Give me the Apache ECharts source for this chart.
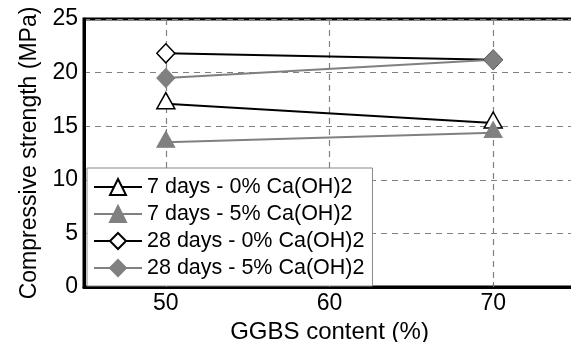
<!DOCTYPE html>
<html>
<head>
<meta charset="utf-8">
<script src="https://cdn.jsdelivr.net/npm/echarts@6/dist/echarts.min.js"></script>
<style>
  html, body { margin: 0; padding: 0; background: #fff; }
  #chart { width: 571px; height: 342px; }
</style>
</head>
<body>
<div id="chart"></div>
<script>
// GGBS replacement levels on the x axis
const ggbs = [50, 70];
// Labelled x positions
const xTicks = [50, 60, 70];

// Compressive strength (MPa) per curing age and Ca(OH)2 dosage
const d7_0 = [17.1, 15.3];
const d7_5 = [13.5, 14.4];
const d28_0 = [21.8, 21.2];
const d28_5 = [19.5, 21.2];

const seriesNames = [
  '7 days - 0% Ca(OH)2',
  '7 days - 5% Ca(OH)2',
  '28 days - 0% Ca(OH)2',
  '28 days - 5% Ca(OH)2'
];

const FONT = '"Liberation Sans", Arial, Helvetica, sans-serif';
const BLACK = '#000000';
const GREY = '#808080';

function pairs(vals) {
  return ggbs.map((x, i) => [x, vals[i]]);
}

function lineSeries(name, vals, color, symbol, size, hollow, offset) {
  return {
    name: name,
    type: 'line',
    data: pairs(vals),
    symbol: symbol,
    symbolSize: size,
    symbolOffset: offset || [0, 0],
    showAllSymbol: true,
    lineStyle: { color: color, width: 2 },
    itemStyle: hollow
      ? { color: '#ffffff', borderColor: color, borderWidth: 1.5 }
      : { color: color, borderColor: color, borderWidth: 1 },
    emphasis: { disabled: true },
    animation: false
  };
}

const chart = echarts.init(document.getElementById('chart'), null, { renderer: 'canvas' });

chart.setOption({
  animation: false,
  textStyle: { fontFamily: FONT },
  grid: {
    left: 84, top: 19, right: -4, bottom: 55,
    outerBoundsMode: 'none',
    containLabel: false,
    show: true,
    borderColor: BLACK,
    borderWidth: 3,
    backgroundColor: 'transparent'
  },
  xAxis: {
    type: 'value',
    min: 45, max: 75, interval: 5,
    name: 'GGBS content (%)',
    nameLocation: 'middle',
    nameGap: 30,
    nameTextStyle: { fontSize: 24, color: BLACK, fontFamily: FONT },
    axisLine: { show: true, onZero: false, lineStyle: { color: BLACK, width: 3 } },
    axisTick: { show: true, inside: true, length: 5, customValues: xTicks, lineStyle: { color: '#777', width: 1 } },
    axisLabel: { fontSize: 23, color: BLACK, fontFamily: FONT, margin: 5, customValues: xTicks },
    splitLine: { show: true, lineStyle: { color: GREY, width: 1.2, type: [6, 5] } }
  },
  yAxis: {
    type: 'value',
    min: 0, max: 25, interval: 5,
    name: 'Compressive strength (MPa)',
    nameLocation: 'middle',
    nameGap: 43,
    nameTextStyle: { fontSize: 23, color: BLACK, fontFamily: FONT },
    axisLine: { show: true, lineStyle: { color: BLACK, width: 3 } },
    axisTick: { show: false },
    axisLabel: { fontSize: 23, color: BLACK, fontFamily: FONT, margin: 6 },
    splitLine: { show: true, lineStyle: { color: GREY, width: 1.2, type: [6, 5] } }
  },
  legend: {
    data: seriesNames,
    orient: 'vertical',
    left: 87, top: 168,
    itemWidth: 48, itemHeight: 20, itemGap: 5,
    padding: [8, 8, 7, 6],
    backgroundColor: '#ffffff',
    borderColor: '#888888',
    borderWidth: 1,
    borderRadius: 0,
    textStyle: { fontSize: 21.5, color: BLACK, fontFamily: FONT },
    selectedMode: false
  },
  series: [
    lineSeries(seriesNames[0], d7_0, BLACK, 'triangle', [18, 16], true, [0, -3]),
    lineSeries(seriesNames[1], d7_5, GREY, 'triangle', [18, 16], false, [0, -3]),
    lineSeries(seriesNames[2], d28_0, BLACK, 'diamond', [18, 19], true),
    lineSeries(seriesNames[3], d28_5, GREY, 'diamond', [18, 19], false)
  ]
});
</script>
</body>
</html>
